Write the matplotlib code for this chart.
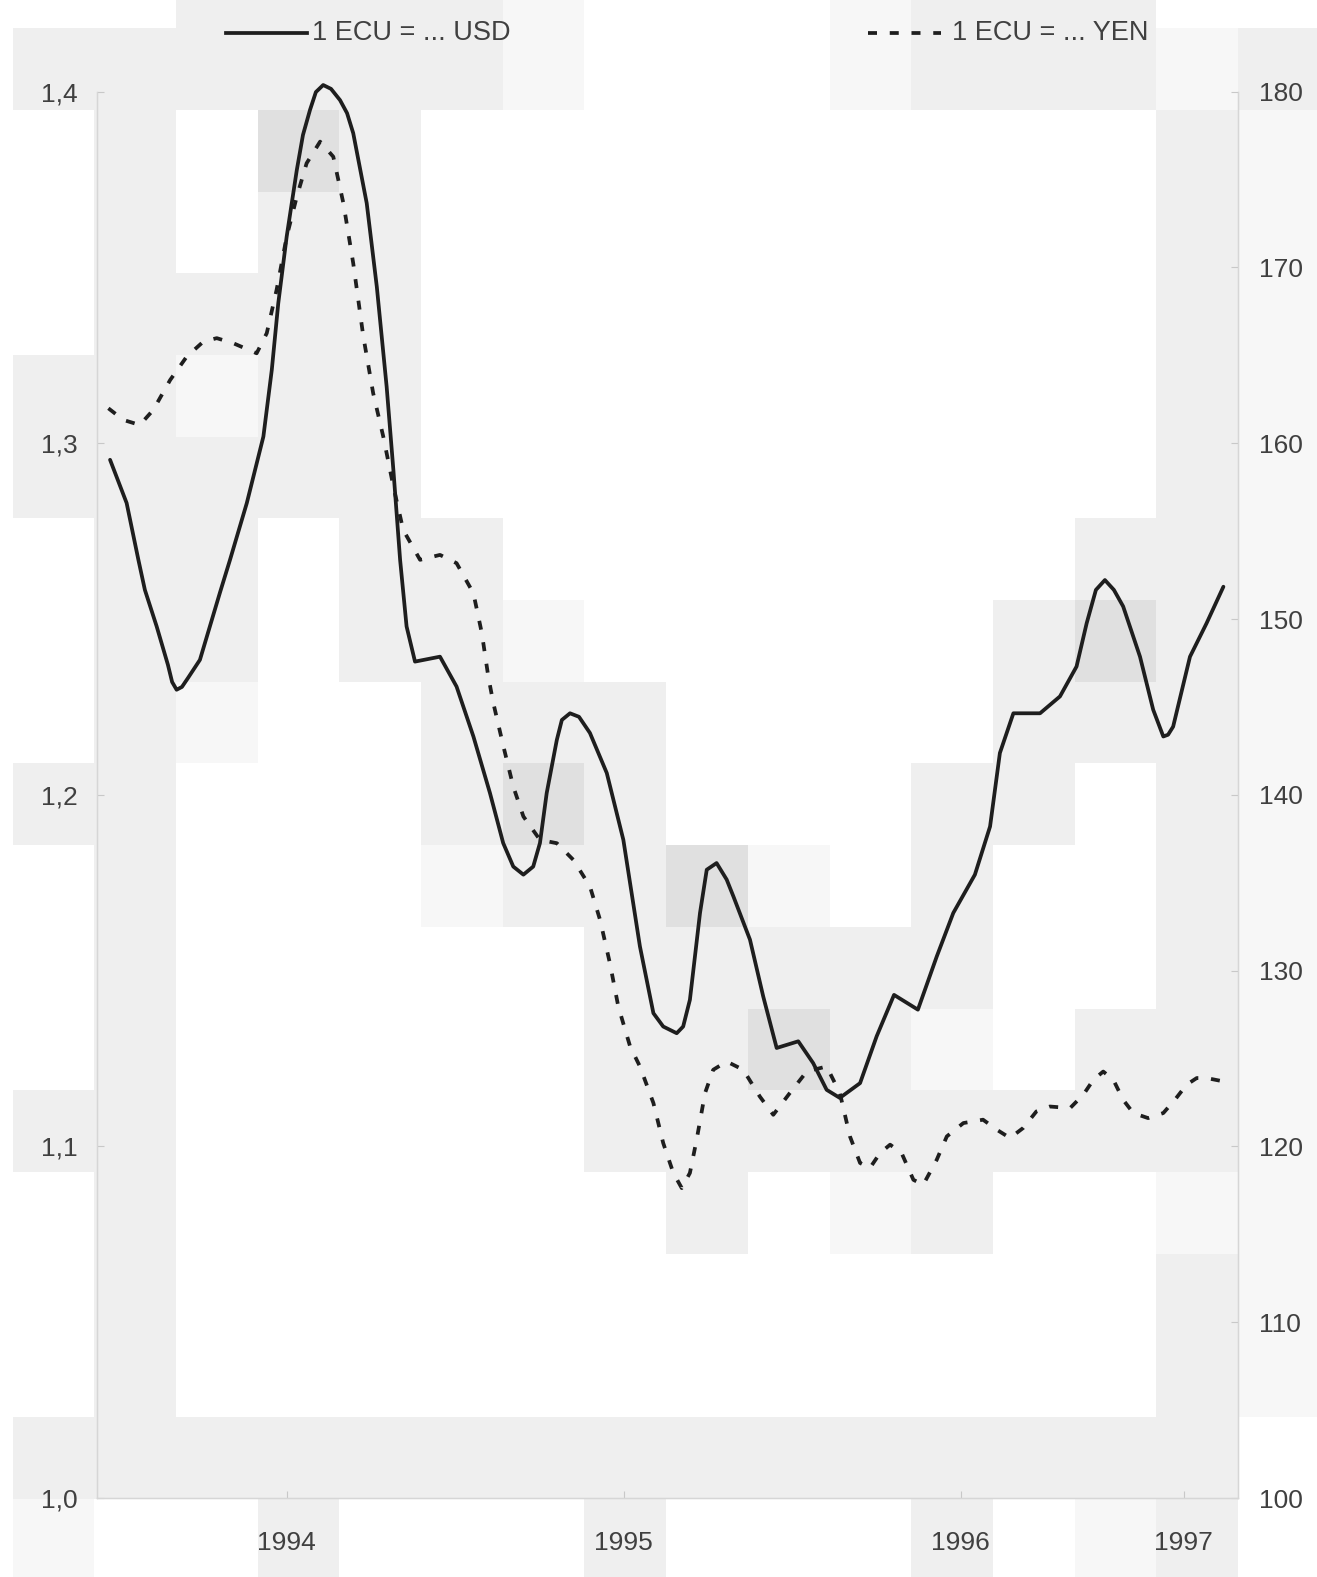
import numpy as np
import matplotlib
matplotlib.use('Agg')
import matplotlib.pyplot as plt
from matplotlib.lines import Line2D

plt.rcParams['font.family'] = ['Liberation Sans', 'DejaVu Sans']

# Monate seit Januar 1994 und Kurse
usd_month = [-0.29, 0.30, 0.72, 0.95, 1.37, 1.77, 1.92, 2.08, 2.27, 2.49, 2.91, 3.63, 3.98, 4.58,
             5.17, 5.47, 5.70, 6.00, 6.36, 6.58, 6.83, 7.04, 7.30, 7.58, 7.90, 8.15, 8.37, 8.85,
             9.21, 9.56, 9.80, 10.04, 10.27, 10.57, 11.46, 12.05, 12.65, 13.24, 13.71, 14.07,
             14.43, 14.78, 15.02, 15.26, 15.62, 15.80, 16.09, 16.41, 16.80, 17.40, 17.99, 18.58,
             19.06, 19.41, 19.89, 20.12, 20.36, 20.72, 20.96, 21.31, 21.67, 21.91, 22.50, 22.97,
             23.45, 24.22, 24.75, 25.23, 25.70, 26.42, 27.01, 27.63, 28.48, 29.15, 29.74, 30.51,
             31.05, 31.40, 31.88, 32.83, 33.54, 34.13, 34.49, 34.82, 35.14, 35.46, 35.79, 36.39,
             36.86, 37.22, 37.39, 37.57, 38.17, 38.76, 39.36]
usd_rate = [1.2953, 1.2830, 1.2668, 1.2583, 1.2479, 1.2370, 1.2321, 1.2299, 1.2307, 1.2333, 1.2384,
            1.2577, 1.2668, 1.2830, 1.3019, 1.3209, 1.3398, 1.3588, 1.3777, 1.3877, 1.3948, 1.3999,
            1.4019, 1.4008, 1.3976, 1.3939, 1.3882, 1.3683, 1.3445, 1.3161, 1.2924, 1.2668, 1.2479,
            1.2379, 1.2393, 1.2308, 1.2166, 1.2005, 1.1863, 1.1796, 1.1773, 1.1796, 1.1863, 1.2005,
            1.2156, 1.2213, 1.2232, 1.2222, 1.2176, 1.2062, 1.1872, 1.1569, 1.1379, 1.1341, 1.1322,
            1.1341, 1.1417, 1.1664, 1.1787, 1.1806, 1.1759, 1.1711, 1.1588, 1.1427, 1.1280, 1.1299,
            1.1237, 1.1161, 1.1138, 1.1180, 1.1313, 1.1431, 1.1389, 1.1540, 1.1664, 1.1773, 1.1910,
            1.2119, 1.2232, 1.2232, 1.2280, 1.2365, 1.2488, 1.2583, 1.2611, 1.2583, 1.2536, 1.2393,
            1.2242, 1.2166, 1.2171, 1.2194, 1.2393, 1.2488, 1.2592]

yen_month = [-0.35, 0.18, 0.77, 1.25, 1.85, 2.44, 3.03, 3.51, 4.10, 4.93, 5.29, 5.64, 6.00, 6.36,
             6.71, 7.19, 7.66, 8.02, 8.37, 8.73, 9.08, 9.44, 9.80, 10.15, 10.75, 11.46, 12.05, 12.65,
             12.95, 13.18, 13.36, 13.72, 14.07, 14.43, 15.02, 15.62, 16.21, 16.80, 17.16, 17.51,
             17.81, 18.23, 18.58, 19.06, 19.41, 19.77, 20.07, 20.36, 20.60, 20.90, 21.19, 21.67,
             22.26, 22.85, 23.33, 23.92, 24.52, 25.23, 25.70, 26.06, 26.42, 26.77, 27.13, 27.49,
             27.90, 28.32, 28.67, 29.15, 29.51, 30.10, 30.80, 31.29, 31.76, 32.23, 32.70, 33.18,
             33.90, 34.37, 34.73, 35.08, 35.44, 35.79, 36.15, 36.68, 37.22, 37.63, 38.05, 38.41,
             38.76, 39.36]
yen_rate = [161.99, 161.33, 161.04, 161.90, 163.60, 164.93, 165.78, 165.98, 165.69, 165.12, 166.26,
            168.72, 171.75, 174.03, 175.93, 177.16, 176.30, 173.65, 170.24, 166.07, 162.85, 160.38,
            157.54, 155.07, 153.37, 153.65, 153.18, 151.47, 149.20, 146.73, 145.22, 142.75, 140.47,
            138.77, 137.44, 137.25, 136.30, 134.79, 132.89, 130.43, 127.96, 125.69, 124.55, 122.47,
            120.19, 118.49, 117.63, 118.49, 120.38, 123.04, 124.36, 124.83, 124.36, 122.84, 121.80,
            123.04, 124.26, 124.55, 123.04, 120.57, 119.06, 118.77, 119.62, 120.10, 119.62, 118.10,
            117.82, 119.24, 120.57, 121.33, 121.52, 120.95, 120.48, 121.05, 121.99, 122.27, 122.18,
            122.94, 123.79, 124.26, 123.79, 122.65, 121.90, 121.61, 121.90, 122.65, 123.51, 123.89,
            123.89, 123.70]

usd_ticks = [1.0, 1.1, 1.2, 1.3, 1.4]
yen_ticks = [100, 110, 120, 130, 140, 150, 160, 170, 180]
year_labels = ['1994', '1995', '1996', '1997']

# grauer Blockhintergrund des Scans ( ' ' weiss, '.' hell, '-' grau, '#' dunkler )
bg_rows = [
    "   ----.   .---  ",
    " ------.   .---.-",
    "  - #-         -.",
    "  - --         -.",
    "  ----         -.",
    " --.--         -.",
    " -----         -.",
    "  -- --       --.",
    "  -- --.     -#-.",
    "  -.  ---    ---.",
    " --   -#-   -- -.",
    "  -   .--#. -  -.",
    "  -     -----  -.",
    "  -     --#-. --.",
    " --     --------.",
    "  -      - .-  ..",
    "  -            -.",
    "  -            -.",
    " --------------- ",
    " .  -   -   - .- ",
]
shade = {' ': 1.0, '.': 0.968, '-': 0.937, '#': 0.875}
bg = np.array([[shade[c] for c in row] for row in bg_rows])

W, H = 1317, 1577
fig = plt.figure(figsize=(W / 100, H / 100), dpi=100)

bgax = fig.add_axes([0, 0, 1, 1], zorder=-5)
bgax.imshow(bg, cmap='gray', vmin=0, vmax=1, interpolation='nearest',
            extent=[-69.1, 1319.8, 1580.6, -53.4], aspect='auto')
bgax.set_xlim(0, W)
bgax.set_ylim(H, 0)
bgax.axis('off')

ax = fig.add_axes([96.7 / W, 1 - 1498 / H, (1238 - 96.7) / W, (1498 - 91.7) / H])
ax.patch.set_alpha(0)
ax2 = ax.twinx()

ink = '#1e1e1e'
txt = '#404040'
dash = (0, (2.4, 3.4))
ax.plot(usd_month, usd_rate, color=ink, lw=2.7, clip_on=False,
        solid_joinstyle='round', solid_capstyle='round')
ax2.plot(yen_month, yen_rate, color=ink, lw=2.7, linestyle=dash, clip_on=False)

xmin, xmax = -0.766, 39.88
ax.set_xlim(xmin, xmax)
ax.set_ylim(1.0, 1.4)
ax2.set_ylim(100, 180)

ax.set_yticks(usd_ticks)
ax.set_yticklabels([f'{v:.1f}'.replace('.', ',') for v in usd_ticks])
ax2.set_yticks(yen_ticks)
ax2.set_yticklabels([str(v) for v in yen_ticks])

year_pos = [6, 18, 30, (36 + xmax) / 2]
ax.set_xticks(year_pos)
ax.set_xticklabels(year_labels)

for a in (ax, ax2):
    for s in a.spines.values():
        s.set_color('#d6d6d6')
        s.set_linewidth(0.9)
    a.spines['top'].set_visible(False)
ax.tick_params(axis='y', direction='in', length=5, color='#c8c8c8', pad=14,
               labelsize=19, labelcolor=txt)
ax2.tick_params(axis='y', direction='in', length=5, color='#c8c8c8', pad=15,
                labelsize=19, labelcolor=txt)
ax.tick_params(axis='x', direction='in', length=5, color='#c8c8c8', pad=23.5,
               labelsize=19, labelcolor=txt)

# Legende oben
ly = 1 - 33 / H
fig.add_artist(Line2D([226 / W, 307 / W], [ly, ly], color=ink, lw=2.7,
                      transform=fig.transFigure))
fig.text(312 / W, ly, '1 ECU = ... USD', fontsize=19.5, color=txt, va='center', ha='left')
fig.add_artist(Line2D([868 / W, 941 / W], [ly, ly], color=ink, lw=2.7,
                      linestyle=dash, transform=fig.transFigure))
fig.text(952 / W, ly, '1 ECU = ... YEN', fontsize=19.5, color=txt, va='center', ha='left')

fig.savefig('out.png', dpi=100)
